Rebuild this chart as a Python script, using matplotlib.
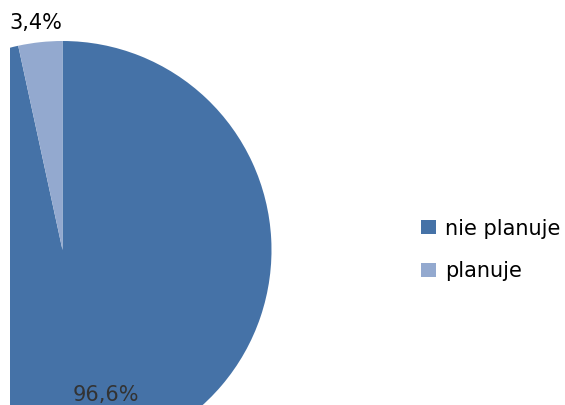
import matplotlib
matplotlib.use("Agg")
import matplotlib.pyplot as plt
from matplotlib.patches import Rectangle

categories = ["nie planuje", "planuje"]
values = [96.6, 3.4]
value_labels = ["96,6%", "3,4%"]
colors = ["#4572A7", "#93A9CF"]

W, H = 565, 405
fig = plt.figure(figsize=(W / 100, H / 100), dpi=100)
ax = fig.add_axes([10 / W, 0, (W - 10) / W, 1])
ax.set_axis_off()

cx, cy, r = 62.5, H - 250, 209
wedges, _ = ax.pie(values, colors=colors, startangle=90, counterclock=False,
                   center=(cx, cy), radius=r, frame=False,
                   wedgeprops=dict(linewidth=0))
for w in wedges:
    w.set_clip_on(True)
ax.set_xlim(10, W)
ax.set_ylim(0, H)
ax.set_aspect("equal")
ax.set_position([10 / W, 0, (W - 10) / W, 1])

# value labels
ax.text(36, H - 23, value_labels[1], fontsize=15, ha="center", va="center", color="black")
ax.text(106, H - 395, value_labels[0], fontsize=15, ha="center", va="center", color="#333333")

handles = [Rectangle((0, 0), 1, 1, facecolor=c, edgecolor="none") for c in colors]
fig.legend(handles, categories, loc="center left",
           bbox_to_anchor=(421 / W, 1 - 250 / H), frameon=False,
           fontsize=15, borderpad=0, borderaxespad=0,
           handlelength=0.74, handleheight=0.64, handletextpad=0.4,
           labelspacing=1.1)

fig.savefig("out.png", dpi=100)
